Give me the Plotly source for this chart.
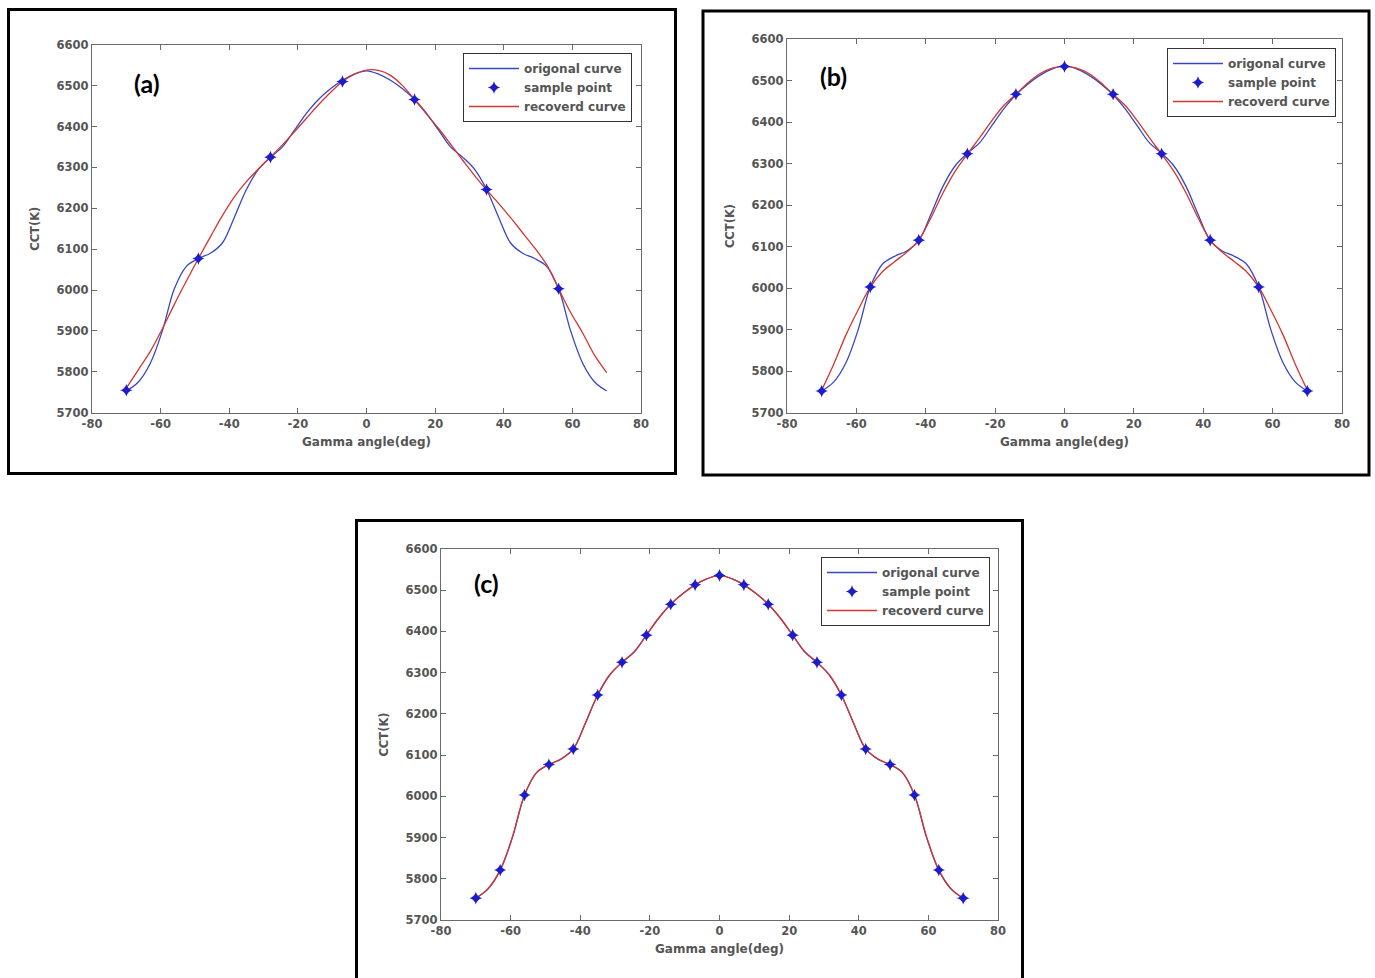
import plotly.graph_objects as go

W, H = 1375, 978

# ---------------- data ----------------
# Gamma angle grid on which the curves are read (deg)
angle_grid = [-70, -66.5, -63, -59.5, -56, -52.5, -49, -45.5, -42, -38.5, -35,
              -31.5, -28, -24.5, -21, -17.5, -14, -10.5, -7, -3.5, 0,
              3.5, 7, 10.5, 14, 17.5, 21, 24.5, 28, 31.5, 35,
              38.5, 42, 45.5, 49, 52.5, 56, 59.5, 63, 66.5, 70]

# Original CCT distribution (K)
orig_cct = [5753, 5775, 5821, 5900, 6003, 6058, 6077, 6090, 6115, 6178, 6246,
            6295, 6325, 6350, 6391, 6432, 6466, 6492, 6513, 6528, 6536,
            6528, 6513, 6492, 6466, 6432, 6391, 6350, 6325, 6295, 6246,
            6178, 6115, 6090, 6077, 6058, 6003, 5900, 5821, 5775, 5753]

# Recovered curves (K)
recov_a = [5760, 5805, 5850, 5905, 5965, 6022, 6077, 6130, 6182, 6228, 6265,
           6296, 6325, 6355, 6387, 6420, 6453, 6483, 6510, 6528, 6538,
           6537, 6525, 6500, 6466, 6430, 6395, 6357, 6318, 6280, 6245,
           6212, 6177, 6140, 6103, 6062, 6003, 5945, 5895, 5840, 5798]

recov_b = [5755, 5818, 5888, 5948, 6003, 6040, 6064, 6087, 6116, 6170, 6230,
           6282, 6323, 6362, 6403, 6440, 6467, 6495, 6517, 6530, 6534,
           6530, 6517, 6495, 6467, 6440, 6403, 6362, 6323, 6282, 6230,
           6170, 6116, 6087, 6064, 6040, 6003, 5948, 5888, 5818, 5755]

recov_c = [5753, 5776, 5821, 5901, 6003, 6058, 6077, 6091, 6115, 6178, 6246,
           6295, 6325, 6351, 6391, 6432, 6466, 6492, 6513, 6528, 6536,
           6528, 6513, 6492, 6466, 6432, 6391, 6351, 6325, 6295, 6246,
           6178, 6115, 6091, 6077, 6058, 6003, 5901, 5821, 5776, 5753]

# Sample points
samp_a_x = [-70, -49, -28, -7, 14, 35, 56]
samp_a_y = [5755, 6077, 6325, 6510, 6466, 6246, 6003]

samp_b_x = [-70, -56, -42, -28, -14, 0, 14, 28, 42, 56, 70]
samp_b_y = [5753, 6003, 6116, 6324, 6467, 6534, 6467, 6324, 6116, 6003, 5753]

samp_c_x = [-70, -63, -56, -49, -42, -35, -28, -21, -14, -7, 0,
            7, 14, 21, 28, 35, 42, 49, 56, 63, 70]
samp_c_y = [5753, 5821, 6003, 6077, 6115, 6246, 6325, 6391, 6466, 6513, 6536,
            6513, 6466, 6391, 6325, 6246, 6115, 6077, 6003, 5821, 5753]

x_ticks = [-80, -60, -40, -20, 0, 20, 40, 60, 80]
y_ticks = [5700, 5800, 5900, 6000, 6100, 6200, 6300, 6400, 6500, 6600]

panel_labels = ["(a)", "(b)", "(c)"]
legend_names = ["origonal curve", "sample point", "recoverd curve"]

# ---------------- layout geometry (pixels) ----------------
# axes box: left, right, top, bottom
axes_px = [(92, 641, 44.7, 412.7),
           (787, 1342, 39, 413),
           (441, 998, 549, 920)]
# outer frame: left, right, top, bottom
frames_px = [(8.5, 675.5, 9.5, 473.5),
             (703, 1369, 11, 475),
             (356.5, 1022.5, 520.5, 1000)]
# legend box top-right corner
legend_px = [(632, 53), (1336, 48), (990, 557)]
# panel label centers
label_px = [(147, 83), (833, 76), (486, 583)]


def px(x):
    return x / W


def py(y):
    return 1 - y / H


BLUE = "#3747c4"
RED = "#d4352e"
STAR = "#1c1ccc"
TXT = "#555555"
AX = "#6a6a6a"
FONT = "DejaVu Sans"

fig = go.Figure()

curves = [(orig_cct, recov_a, samp_a_x, samp_a_y),
          (orig_cct, recov_b, samp_b_x, samp_b_y),
          (orig_cct, recov_c, samp_c_x, samp_c_y)]

for i, (orig, recov, sx, sy) in enumerate(curves):
    xa = "x" if i == 0 else f"x{i + 1}"
    ya = "y" if i == 0 else f"y{i + 1}"
    lg = "legend" if i == 0 else f"legend{i + 1}"
    fig.add_trace(go.Scatter(
        x=angle_grid, y=orig, mode="lines", name=legend_names[0],
        line=dict(color=BLUE, width=1.3, shape="spline", smoothing=1),
        xaxis=xa, yaxis=ya, legend=lg, legendrank=1))
    fig.add_trace(go.Scatter(
        x=angle_grid, y=recov, mode="lines", name=legend_names[2],
        line=dict(color=RED, width=1.3, shape="spline", smoothing=1),
        xaxis=xa, yaxis=ya, legend=lg, legendrank=3))
    fig.add_trace(go.Scatter(
        x=sx, y=sy, mode="markers", name=legend_names[1],
        marker=dict(symbol="star-diamond", size=9, color=STAR,
                    line=dict(width=0)),
        xaxis=xa, yaxis=ya, legend=lg, legendrank=2))

layout = dict(
    width=W, height=H,
    margin=dict(l=0, r=0, t=0, b=0, pad=0, autoexpand=False),
    paper_bgcolor="white", plot_bgcolor="white",
    font=dict(family=FONT, color=TXT, size=12),
    shapes=[], annotations=[],
)

for i, (l, r, t, b) in enumerate(axes_px):
    sfx = "" if i == 0 else str(i + 1)
    common = dict(showline=True, linecolor=AX, linewidth=1.3, mirror="allticks",
                  ticks="inside", ticklen=5, tickcolor=AX, tickwidth=1.2,
                  showgrid=False, zeroline=False, automargin=False,
                  tickfont=dict(family=FONT, size=11.5, color=TXT, weight="bold"))
    layout[f"xaxis{sfx}"] = dict(
        common, domain=[px(l), px(r)], range=[-80, 80],
        tickvals=x_ticks, ticktext=[str(v) for v in x_ticks],
        anchor=f"y{sfx}",
        title=dict(text="Gamma angle(deg)", standoff=7,
                   font=dict(family=FONT, size=12, color=TXT, weight="bold")))
    layout[f"yaxis{sfx}"] = dict(
        common, domain=[py(b), py(t)], range=[5700, 6600],
        tickvals=y_ticks, ticktext=[str(v) for v in y_ticks],
        anchor=f"x{sfx}",
        title=dict(text="CCT(K)", standoff=14,
                   font=dict(family=FONT, size=11.5, color=TXT, weight="bold")))

    lx, ly = legend_px[i]
    layout["legend" if i == 0 else f"legend{i + 1}"] = dict(
        x=px(lx), y=py(ly), xanchor="right", yanchor="top",
        xref="paper", yref="paper",
        bgcolor="white", bordercolor="#333333", borderwidth=1,
        font=dict(family=FONT, size=12, color=TXT, weight="bold"),
        itemwidth=50, tracegroupgap=0, traceorder="normal")

    fl, fr, ft, fb = frames_px[i]
    layout["shapes"].append(dict(
        type="rect", xref="paper", yref="paper",
        x0=px(fl), x1=px(fr), y0=py(fb), y1=py(ft),
        line=dict(color="black", width=3), fillcolor="rgba(0,0,0,0)"))

    cx, cy = label_px[i]
    layout["annotations"].append(dict(
        text=f"<b>{panel_labels[i]}</b>", x=px(cx), y=py(cy),
        xref="paper", yref="paper", xanchor="center", yanchor="middle",
        showarrow=False,
        font=dict(family="Lato", size=25, color="black")))

fig.update_layout(**layout)
fig.write_html("out.html")
